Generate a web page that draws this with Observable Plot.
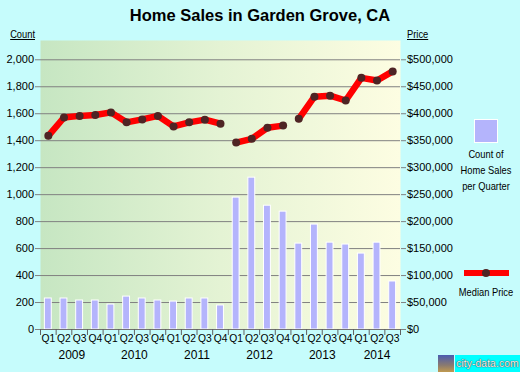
<!DOCTYPE html>
<html><head><meta charset="utf-8">
<script src="https://cdn.jsdelivr.net/npm/d3@7"></script>
<script src="https://cdn.jsdelivr.net/npm/@observablehq/plot@0.6"></script>
<style>
body{margin:0;background:#c6fcfc;}
#wrap{position:relative;width:520px;height:372px;background:#c6fcfc;overflow:hidden;font-family:"Liberation Sans",Arial,sans-serif;color:#000;}
#wrap svg{position:absolute;left:0;top:0;}
.abs{position:absolute;white-space:nowrap;}
.nw{font-size:11.5px;line-height:16px;}
</style></head><body>
<div id="wrap">
  <div class="abs" style="left:0;top:5px;width:520px;text-align:center;font-weight:bold;font-size:16.5px;line-height:20px;">Home Sales in Garden Grove, CA</div>
  <div class="abs nw" style="left:0;top:25.5px;width:35px;text-align:right;text-decoration:underline;transform:scaleX(0.81);transform-origin:right center;">Count</div>
  <div class="abs nw" style="left:407px;top:25.5px;text-decoration:underline;transform:scaleX(0.81);transform-origin:left center;">Price</div>
  <div class="abs" style="left:474px;top:119px;width:24px;height:24px;box-sizing:border-box;background:#b4b4fc;border:1px solid #fff;"></div>
  <div class="abs nw" style="left:436px;top:145.5px;width:100px;text-align:center;transform:scaleX(0.81);">Count of<br>Home Sales<br>per Quarter</div>
  <div class="abs" style="left:464px;top:270px;width:45px;height:6px;background:#ff0000;"></div>
  <div class="abs" style="left:482px;top:269px;width:8px;height:8px;border-radius:50%;background:#4e2424;"></div>
  <div class="abs nw" style="left:436px;top:284px;width:100px;text-align:center;transform:scaleX(0.81);">Median Price</div>
  <div class="abs" style="left:438px;top:355px;width:16px;height:17px;background:linear-gradient(#4a5cb0,#8a7a70 60%,#c09a50);"></div>
  <div class="abs" style="left:455px;top:355px;width:65px;height:17px;background:#00ffff;font-size:10.5px;line-height:17px;color:#f4f4f4;text-shadow:0 0 1px #333,0 0 1px #333;text-align:center;">city-data.com</div>
</div>
<script>
const years = [2009, 2010, 2011, 2012, 2013, 2014];
const quarterLabels = ["Q1", "Q2", "Q3", "Q4"];
const quartersPerYear = [4, 4, 4, 4, 4, 3];
const salesCount = [230, 230, 215, 215, 185, 244, 230, 215, 207, 230, 230, 178,
                    978, 1126, 918, 874, 637, 778, 644, 630, 563, 644, 356];
const medianPrice = [359000, 393000, 396000, 397500, 402500, 384000, 389500, 396000,
                     376500, 384000, 389000, 381500, 346500, 353500, 374000, 378000,
                     390500, 431500, 433500, 424500, 466500, 461500, 478500];
const lineSegmentStarts = ["2012 Q1", "2013 Q1"];
const countTicks = [0, 200, 400, 600, 800, 1000, 1200, 1400, 1600, 1800, 2000];
const priceTicks = [0, 50000, 100000, 150000, 200000, 250000, 300000, 350000, 400000, 450000, 500000];
const countMax = 2143;
const pricePerCount = 250; // right axis: $500,000 aligns with 2,000

const rows = [];
years.forEach((y, yi) => {
  for (let q = 0; q < quartersPerYear[yi]; q++) {
    const i = rows.length;
    rows.push({i, year: y, q: quarterLabels[q], key: `${y} ${quarterLabels[q]}`,
               count: salesCount[i], price: medianPrice[i]});
  }
});
let seg = 0;
rows.forEach(r => { if (lineSegmentStarts.includes(r.key)) seg++; r.seg = seg; });
const yearRows = years.map(y => {
  const rs = rows.filter(r => r.year === y);
  return {year: String(y), mid: d3.mean(rs, r => r.i + 0.5)};
});

const defs = () => {
  const g = d3.create("svg:defs");
  const lg = g.append("linearGradient").attr("id", "plotBg")
    .attr("x1", "0").attr("x2", "1").attr("y1", "0").attr("y2", "0");
  lg.append("stop").attr("offset", "0%").attr("stop-color", "#c6e6c2");
  lg.append("stop").attr("offset", "50%").attr("stop-color", "#e4f3d4");
  lg.append("stop").attr("offset", "100%").attr("stop-color", "#fdfde2");
  return g.node();
};

const common = {
  width: 520, height: 372,
  marginTop: 40, marginRight: 120, marginBottom: 43, marginLeft: 40,
  style: {background: "transparent", fontFamily: "'Liberation Sans', Arial, sans-serif",
          fontSize: "11px", color: "#000", overflow: "visible"}
};

const p1 = Plot.plot({
  ...common,
  x: {type: "linear", domain: [0, rows.length]},
  y: {domain: [0, countMax]},
  marks: [
    defs,
    Plot.frame({fill: "url(#plotBg)", stroke: "none"}),
    Plot.ruleY(countTicks.filter(t => t > 0), {stroke: "#808080", strokeWidth: 1}),
    Plot.rectY(rows, {x1: d => d.i + 0.28, x2: d => d.i + 0.72, y: "count",
                      fill: "#b4b4fc", stroke: "#ffffff", strokeWidth: 1}),
    Plot.ruleY([0], {stroke: "#707070", strokeWidth: 1}),
    Plot.axisY({ticks: countTicks, tickSize: 5, tickPadding: 1.5, tickFormat: d3.format(","),
                stroke: "#808080", fill: "#000", label: null, fontSize: 11}),
    Plot.axisX({ticks: d3.range(rows.length + 1), tickSize: 6, tickFormat: () => "",
                stroke: "#606060", label: null}),
    Plot.text(rows, {x: d => d.i + 0.5, text: "q", frameAnchor: "bottom", dy: 12.5,
                     fontSize: 10.3, fill: "#000"}),
    Plot.text(yearRows, {x: "mid", text: "year", frameAnchor: "bottom", dy: 29.5,
                         fontSize: 12, fill: "#000"})
  ]
});

const p2 = Plot.plot({
  ...common,
  x: {type: "linear", domain: [0, rows.length], axis: null},
  y: {domain: [0, countMax * pricePerCount]},
  marks: [
    Plot.line(rows, {x: d => d.i + 0.5, y: "price", z: "seg", stroke: "#ff0000",
                     strokeWidth: 6.5, strokeLinejoin: "round", strokeLinecap: "round"}),
    Plot.dot(rows, {x: d => d.i + 0.5, y: "price", r: 4, fill: "#4e2424", stroke: "none"}),
    Plot.axisY({anchor: "right", ticks: priceTicks, tickSize: 5, tickPadding: 1.5,
                tickFormat: d => "$" + d3.format(",")(d), stroke: "#808080", fill: "#000",
                label: null, fontSize: 11})
  ]
});

const wrap = document.getElementById("wrap");
wrap.insertBefore(p2, wrap.firstChild);
wrap.insertBefore(p1, wrap.firstChild);
</script>
</body></html>
